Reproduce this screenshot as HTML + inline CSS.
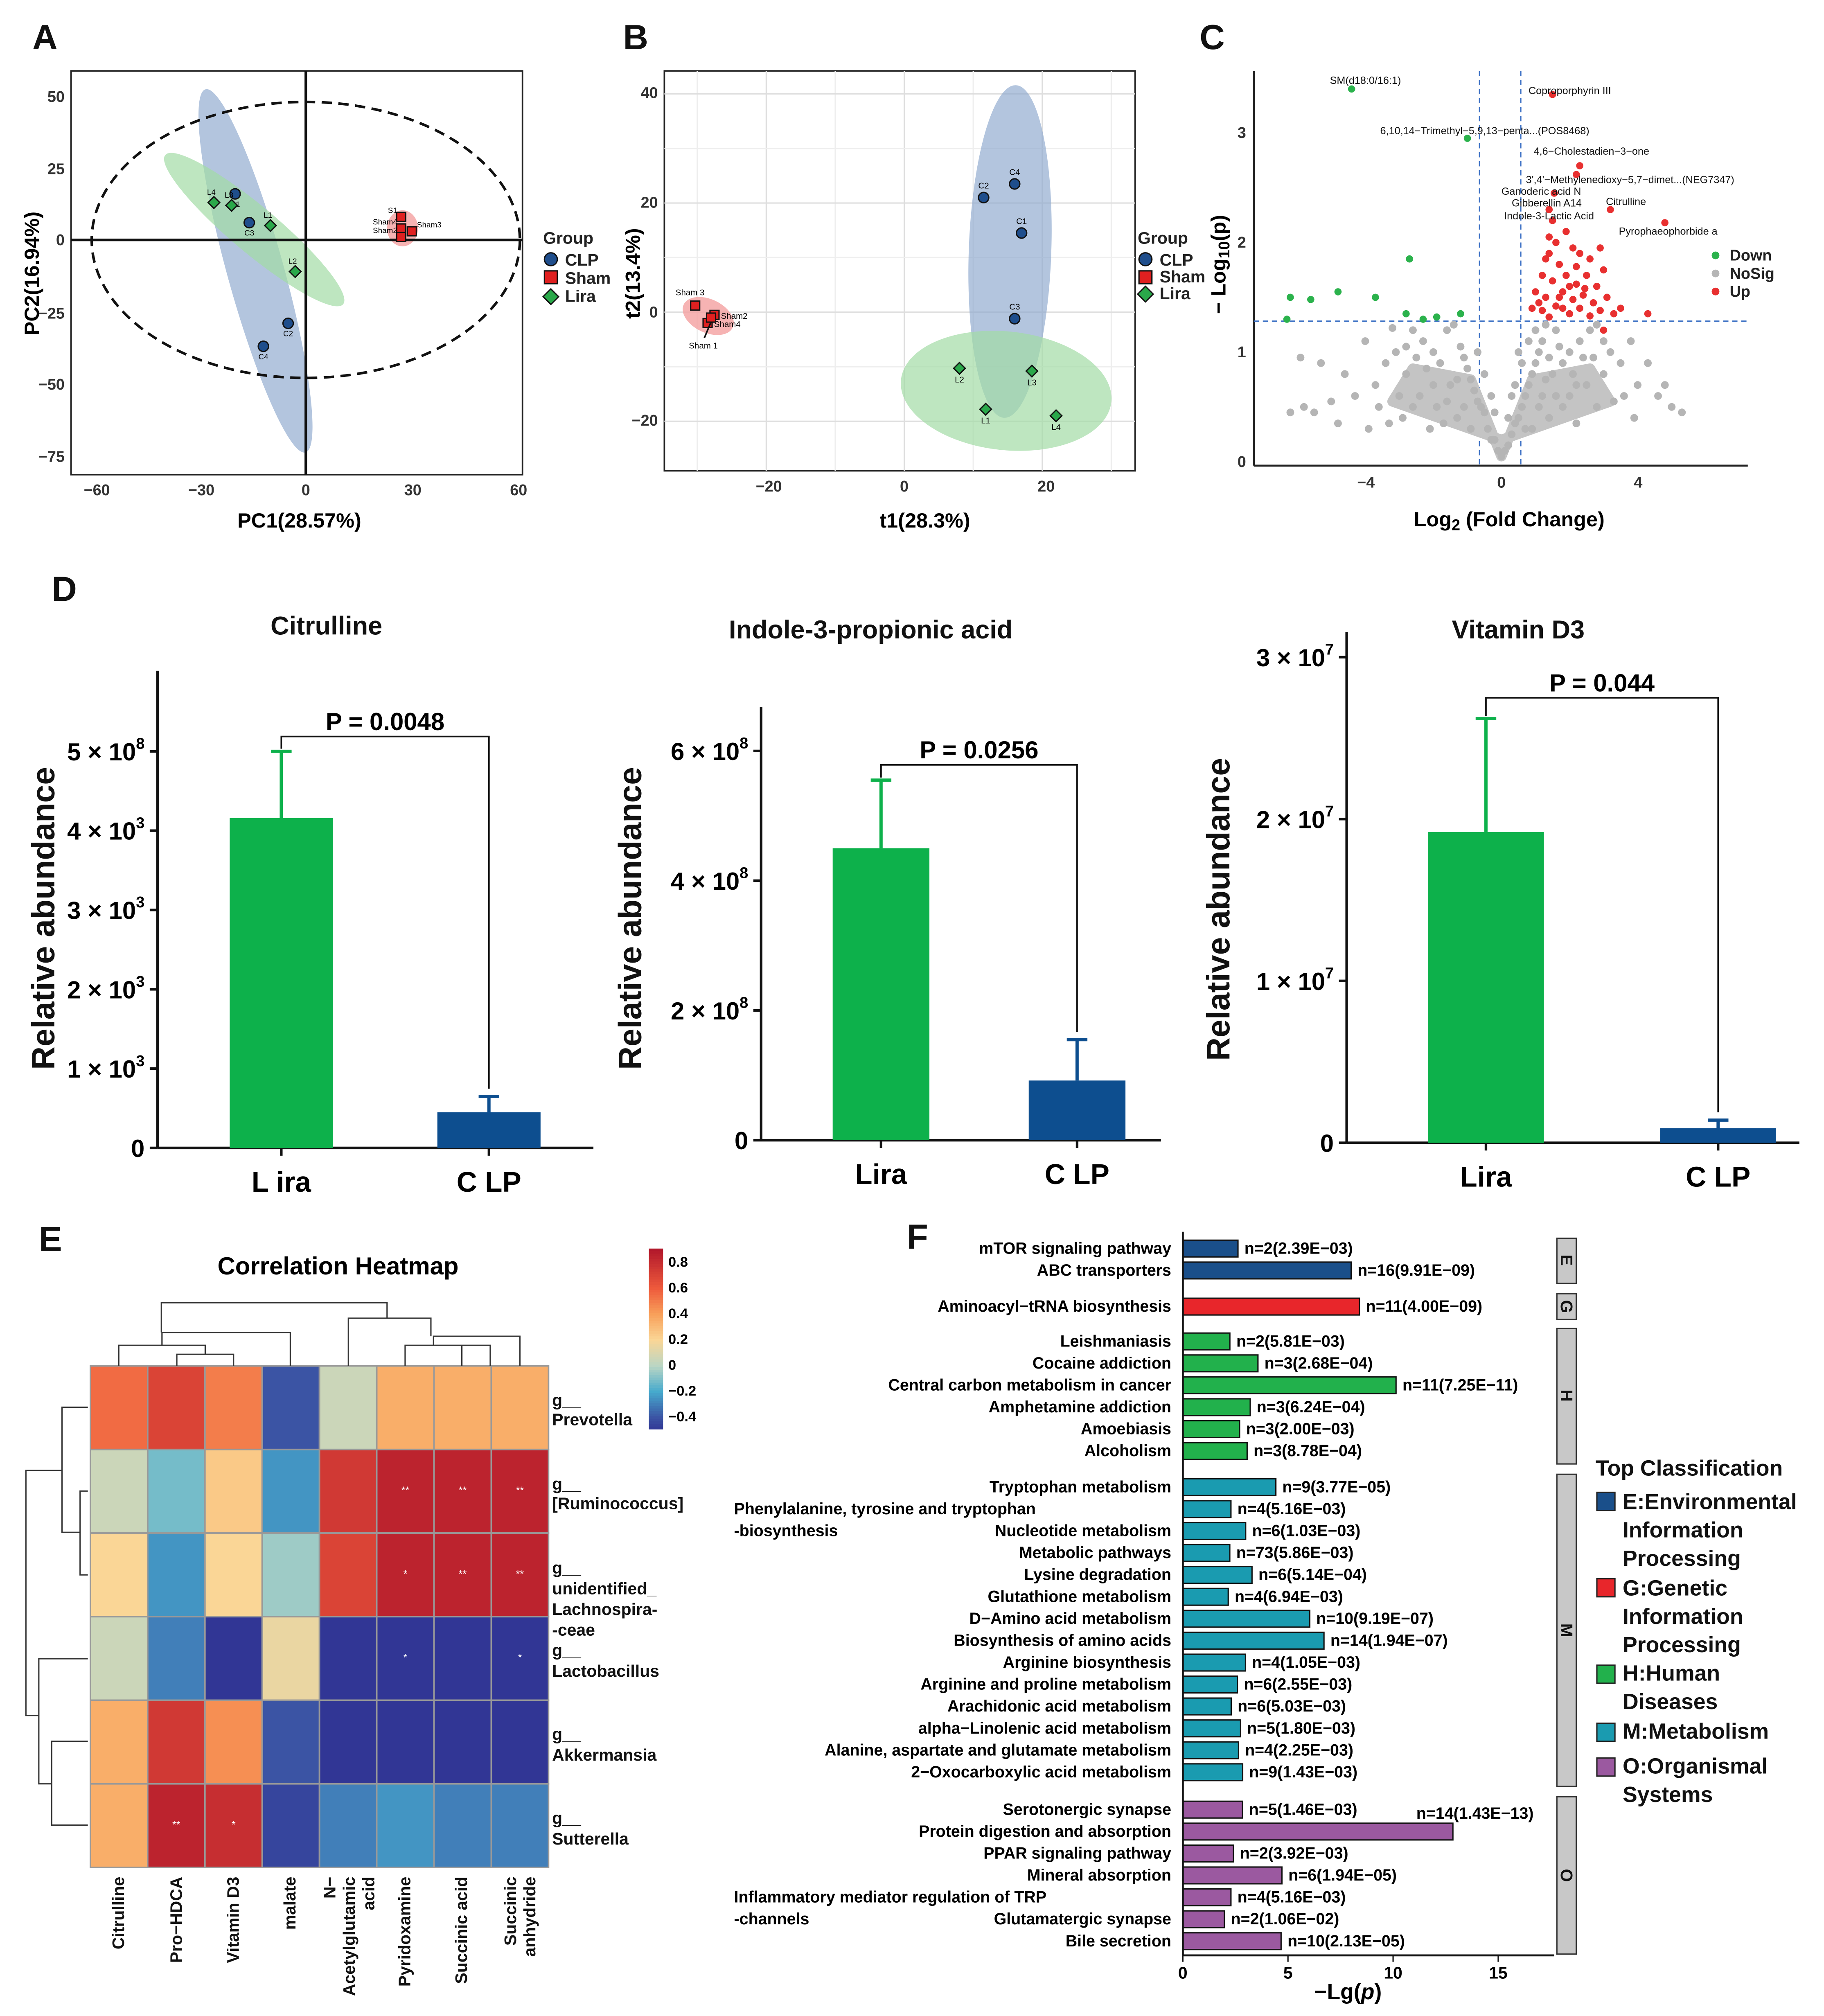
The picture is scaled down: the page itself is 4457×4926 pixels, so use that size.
<!DOCTYPE html>
<html><head><meta charset="utf-8"><style>
html,body{margin:0;padding:0;background:#fff;}
svg{display:block;font-family:"Liberation Sans",Arial,sans-serif;}
.b{font-weight:bold}
</style></head><body>
<svg id="fig" xmlns="http://www.w3.org/2000/svg" width="4457" height="4926" viewBox="0 0 1414 1563">
<rect x="0" y="0" width="1414" height="1563" fill="#fff"/>
<g class="b" font-size="27" fill="#111">
<text x="25" y="38">A</text>
<text x="483" y="38">B</text>
<text x="930" y="38">C</text>
<text x="40" y="466">D</text>
<text x="30" y="970">E</text>
<text x="703" y="968">F</text>
</g>

<g>
<rect x="55" y="55" width="350" height="313" fill="none" stroke="#222" stroke-width="1.2"/>
<g class="b" font-size="12" fill="#333" text-anchor="middle">
<text x="75" y="384">−60</text><text x="156" y="384">−30</text><text x="237" y="384">0</text><text x="320" y="384">30</text><text x="402" y="384">60</text>
</g>
<g class="b" font-size="12" fill="#333" text-anchor="end">
<text x="50" y="79">50</text><text x="50" y="135">25</text><text x="50" y="190">0</text><text x="50" y="247">−25</text><text x="50" y="302">−50</text><text x="50" y="358">−75</text>
</g>
<text class="b" x="232" y="409" font-size="16" text-anchor="middle">PC1(28.57%)</text>
<text class="b" x="30" y="212" font-size="16" text-anchor="middle" transform="rotate(-90 30 212)">PC2(16.94%)</text>
</g>
<g id="gA"></g>
<g class="b" font-size="13" fill="#222">
<text x="421" y="189">Group</text>
<circle cx="427" cy="201" r="5" fill="#1f4e8c" stroke="#111"/><text x="438" y="206">CLP</text>
<rect x="422" y="210" width="10" height="10" fill="#e02020" stroke="#111"/><text x="438" y="220">Sham</text>
<path d="M427 224 l6 6 -6 6 -6 -6z" fill="#2aa84a" stroke="#111"/><text x="438" y="234">Lira</text>
</g>

<g>
<rect x="515" y="55" width="365" height="310" fill="#fff" stroke="#222" stroke-width="1.2"/>
<g id="gBgrid"></g>
<g class="b" font-size="12" fill="#333" text-anchor="middle">
<text x="596" y="381">−20</text><text x="701" y="381">0</text><text x="811" y="381">20</text>
</g>
<g class="b" font-size="12" fill="#333" text-anchor="end">
<text x="510" y="76">40</text><text x="510" y="161">20</text><text x="510" y="246">0</text><text x="510" y="330">−20</text>
</g>
<text class="b" x="717" y="409" font-size="16" text-anchor="middle">t1(28.3%)</text>
<text class="b" x="496" y="212" font-size="16" text-anchor="middle" transform="rotate(-90 496 212)">t2(13.4%)</text>
</g>
<g id="gB"></g>
<g class="b" font-size="13" fill="#222">
<text x="882" y="189">Group</text>
<circle cx="888" cy="201" r="5" fill="#1f4e8c" stroke="#111"/><text x="899" y="206">CLP</text>
<rect x="883" y="210" width="10" height="10" fill="#e02020" stroke="#111"/><text x="899" y="219">Sham</text>
<path d="M888 222 l6 6 -6 6 -6 -6z" fill="#2aa84a" stroke="#111"/><text x="899" y="232">Lira</text>
</g>

<g>
<line x1="972" y1="55" x2="972" y2="361" stroke="#222" stroke-width="1.5"/>
<line x1="972" y1="361" x2="1355" y2="361" stroke="#222" stroke-width="1.5"/>
<g class="b" font-size="12" fill="#333" text-anchor="middle">
<text x="1059" y="378">−4</text><text x="1164" y="378">0</text><text x="1270" y="378">4</text>
</g>
<g class="b" font-size="12" fill="#333" text-anchor="end">
<text x="966" y="362">0</text><text x="966" y="277">1</text><text x="966" y="192">2</text><text x="966" y="107">3</text>
</g>
<text class="b" x="1170" y="408" font-size="16" text-anchor="middle">Log<tspan font-size="12" dy="3">2</tspan><tspan dy="-3"> (Fold Change)</tspan></text>
<text class="b" x="950" y="205" font-size="16" text-anchor="middle" transform="rotate(-90 950 205)">− Log<tspan font-size="12" dy="3">10</tspan><tspan dy="-3">(p)</tspan></text>
<line x1="1147" y1="55" x2="1147" y2="361" stroke="#3a6fc4" stroke-dasharray="4 3"/>
<line x1="1179" y1="55" x2="1179" y2="361" stroke="#3a6fc4" stroke-dasharray="4 3"/>
<line x1="972" y1="249" x2="1355" y2="249" stroke="#3a6fc4" stroke-dasharray="4 3"/>
</g>
<g id="gC"></g>
<g font-size="8" fill="#111">
<text x="1031" y="65">SM(d18:0/16:1)</text>
<text x="1185" y="73">Coproporphyrin III</text>
<text x="1070" y="104">6,10,14−Trimethyl−5,9,13−penta...(POS8468)</text>
<text x="1189" y="120">4,6−Cholestadien−3−one</text>
<text x="1183" y="142">3',4'−Methylenedioxy−5,7−dimet...(NEG7347)</text>
<text x="1164" y="151">Ganoderic acid N</text>
<text x="1172" y="160">Gibberellin A14</text>
<text x="1245" y="159">Citrulline</text>
<text x="1166" y="170">Indole-3-Lactic Acid</text>
<text x="1255" y="182">Pyrophaeophorbide a</text>
</g>
<g class="b" font-size="12" fill="#222">
<circle cx="1330" cy="198" r="3" fill="#2bb24c"/><text x="1341" y="202">Down</text>
<circle cx="1330" cy="212" r="3" fill="#b5b5b5"/><text x="1341" y="216">NoSig</text>
<circle cx="1330" cy="226" r="3" fill="#e83030"/><text x="1341" y="230">Up</text>
</g>

<g class="b" font-size="20" fill="#111" text-anchor="middle">
<text x="253" y="492">Citrulline</text>
<text x="675" y="495">Indole-3-propionic acid</text>
<text x="1177" y="495">Vitamin D3</text>
</g>
<g class="b" font-size="25" fill="#111" text-anchor="middle">
<text x="42" y="712" transform="rotate(-90 42 712)">Relative abundance</text>
<text x="497" y="712" transform="rotate(-90 497 712)">Relative abundance</text>
<text x="953" y="705" transform="rotate(-90 953 705)">Relative abundance</text>
</g>
<g id="gD"></g>

<text class="b" x="262" y="988" font-size="19" text-anchor="middle">Correlation Heatmap</text>
<g id="gE"></g>
<g fill="none" stroke="#333" stroke-width="1">
<path d="M92 1059V1043H159V1050"/><path d="M137 1059V1050H181V1059"/>
<path d="M225 1059V1033H125.5V1043"/><path d="M125 1033V1010H300V1022"/>
<path d="M270 1059V1022H334V1036"/><path d="M314 1059V1043H380V1059"/><path d="M358 1059V1043"/><path d="M336 1043V1036H403V1059"/>
</g>
<g fill="none" stroke="#333" stroke-width="1">
<path d="M68 1156H62V1221H68"/><path d="M62 1188H48V1091H68"/><path d="M48 1140H20V1330H30"/>
<path d="M68 1350H40V1415H68"/><path d="M40 1383H30V1286H68"/>
</g>
<g class="b" font-size="13" fill="#111">
<text x="428" y="1090">g__</text><text x="428" y="1105">Prevotella</text>
<text x="428" y="1155">g__</text><text x="428" y="1170">[Ruminococcus]</text>
<text x="428" y="1220">g__</text><text x="428" y="1236">unidentified_</text><text x="428" y="1252">Lachnospira-</text><text x="428" y="1268">-ceae</text>
<text x="428" y="1284">g__</text><text x="428" y="1300">Lactobacillus</text>
<text x="428" y="1349">g__</text><text x="428" y="1365">Akkermansia</text>
<text x="428" y="1414">g__</text><text x="428" y="1430">Sutterella</text>
</g>
<g class="b" font-size="13" fill="#111" text-anchor="end">
<text transform="translate(96 1455) rotate(-90)">Citrulline</text>
<text transform="translate(141 1455) rotate(-90)">Pro−HDCA</text>
<text transform="translate(185 1455) rotate(-90)">Vitamin D3</text>
<text transform="translate(229 1455) rotate(-90)">malate</text>
<text transform="translate(260 1455) rotate(-90)">N−</text>
<text transform="translate(275 1455) rotate(-90)">Acetylglutamic</text>
<text transform="translate(290 1455) rotate(-90)">acid</text>
<text transform="translate(318 1455) rotate(-90)">Pyridoxamine</text>
<text transform="translate(362 1455) rotate(-90)">Succinic acid</text>
<text transform="translate(400 1455) rotate(-90)">Succinic</text>
<text transform="translate(415 1455) rotate(-90)">anhydride</text>
</g>
<g id="gEleg"></g>

<g id="gF"></g>
<g class="b" font-size="13" fill="#111">
<rect x="1207" y="960" width="15" height="35" fill="#c8c8c8" stroke="#333"/>
<rect x="1207" y="1003" width="15" height="20" fill="#c8c8c8" stroke="#333"/>
<rect x="1207" y="1030" width="15" height="105" fill="#c8c8c8" stroke="#333"/>
<rect x="1207" y="1143" width="15" height="242" fill="#c8c8c8" stroke="#333"/>
<rect x="1207" y="1393" width="15" height="122" fill="#c8c8c8" stroke="#333"/>
<text transform="translate(1210 977) rotate(90)" text-anchor="middle">E</text>
<text transform="translate(1210 1013) rotate(90)" text-anchor="middle">G</text>
<text transform="translate(1210 1082) rotate(90)" text-anchor="middle">H</text>
<text transform="translate(1210 1264) rotate(90)" text-anchor="middle">M</text>
<text transform="translate(1210 1454) rotate(90)" text-anchor="middle">O</text>
</g>
<g class="b" font-size="17" fill="#111">
<text x="1237" y="1144">Top Classification</text>
<rect x="1238" y="1157" width="14" height="14" fill="#1a4f8a" stroke="#222"/>
<text x="1258" y="1170">E:Environmental</text><text x="1258" y="1192">Information</text><text x="1258" y="1214">Processing</text>
<rect x="1238" y="1224" width="14" height="14" fill="#e8262b" stroke="#222"/>
<text x="1258" y="1237">G:Genetic</text><text x="1258" y="1259">Information</text><text x="1258" y="1281">Processing</text>
<rect x="1238" y="1291" width="14" height="14" fill="#22b14c" stroke="#222"/>
<text x="1258" y="1303">H:Human</text><text x="1258" y="1325">Diseases</text>
<rect x="1238" y="1336" width="14" height="14" fill="#1a9bb0" stroke="#222"/>
<text x="1258" y="1348">M:Metabolism</text>
<rect x="1238" y="1363" width="14" height="14" fill="#9b59a0" stroke="#222"/>
<text x="1258" y="1375">O:Organismal</text><text x="1258" y="1397">Systems</text>
</g>
</svg>
<script>
const NS="http://www.w3.org/2000/svg";
const pcaClpNames=["C1","C3","C2","C4"];
const pcaClpX=[-20,-16,-5,-12];
const pcaClpY=[16,6,-29,-37];
const pcaLiraNames=["L4","L3","L1","L2"];
const pcaLiraX=[-26,-21,-10,-3];
const pcaLiraY=[13,12,5,-11];
const pcaShamNames=["S1","Sham3","Sham4","Sham2"];
const pcaShamX=[27,30,27,27];
const pcaShamY=[8,3,4,1];

const plsClpNames=["C4","C2","C1","C3"];
const plsClpX=[16,11.5,17,16];
const plsClpY=[23.5,21,14.5,-1.2];
const plsLiraNames=["L2","L3","L1","L4"];
const plsLiraX=[8,18.5,11.8,22];
const plsLiraY=[-10.3,-10.8,-17.8,-19];
const plsShamNames=["Sham 3","Sham2","Sham4","Sham 1"];
const plsShamX=[-30.3,-27.5,-28.5,-28];
const plsShamY=[1.2,-0.5,-2,-1];

const volcNoSig=[[0,0.05],[0.1,0.1],[-0.1,0.1],[0.2,0.15],[-0.2,0.2],[0.3,0.25],[-0.3,0.2],[0.4,0.35],[-0.4,0.3],[0.5,0.4],[-0.5,0.45],[0.6,0.5],[-0.6,0.5],[0.7,0.6],[-0.7,0.55],[0.8,0.7],[-0.8,0.65],[0.9,0.8],[-0.9,0.75],[1.0,0.9],[-1.0,0.85],[1.1,1.0],[-1.1,0.95],[1.2,1.1],[-1.2,1.05],[0.6,0.9],[0.8,1.1],[1.0,1.2],[-0.7,1.0],[-0.5,0.8],[0.4,0.7],[0.7,0.3],[1.2,0.6],[1.5,0.8],[1.8,0.9],[2.0,1.0],[2.3,1.1],[2.6,1.2],[1.6,1.2],[2.0,0.6],[2.5,0.7],[3.0,0.8],[3.2,1.0],[3.5,0.9],[3.8,1.1],[4.0,0.7],[4.3,0.9],[4.6,0.6],[5.0,0.5],[5.3,0.45],[1.4,0.4],[1.8,0.5],[2.2,0.35],[2.8,0.5],[3.3,0.55],[1.3,1.25],[2.8,1.25],[-1.5,0.7],[-1.8,0.9],[-2.0,1.0],[-2.3,1.1],[-2.6,1.2],[-1.6,1.2],[-1.9,0.5],[-2.4,0.6],[-2.8,0.8],[-3.1,1.0],[-3.4,0.9],[-3.7,0.7],[-4.0,1.1],[-4.3,0.6],[-4.6,0.8],[-5.0,0.55],[-5.5,0.45],[-6.2,0.45],[-5.8,0.5],[-5.9,0.95],[-1.3,0.4],[-2.1,0.3],[-2.9,0.4],[-3.3,0.35],[-1.4,1.25],[-3.2,1.22],[0.3,0.6],[-0.3,0.6],[0.9,0.3],[-0.9,0.3],[1.7,1.05],[2.1,0.8],[-2.2,0.85],[-1.7,0.35],[3.9,0.4],[4.8,0.7],[-4.8,0.35],[-3.9,0.3],[-5.3,0.9],[0.5,1.0],[1.4,0.95],[2.4,0.95],[-1.3,0.75],[-2.5,0.95],[3.6,0.6],[-3.6,0.5],[0.2,0.4],[-0.2,0.45],[1.1,0.5],[-1.1,0.5],[1.3,0.75],[1.6,0.6],[2.2,0.7],[2.7,0.95],[-1.6,0.55],[-2.0,0.7],[-2.6,0.5],[-3.0,0.6],[3.0,1.1],[-2.8,1.05]];
const volcUp=[[1.5,3.35],[2.3,2.7],[2.2,2.62],[1.55,2.45],[1.4,2.3],[3.2,2.3],[1.5,2.2],[4.8,2.18],[1.4,2.05],[1.6,2.0],[1.9,2.1],[2.1,1.95],[1.3,1.85],[1.7,1.8],[2.3,1.9],[2.6,1.85],[2.9,1.95],[1.2,1.7],[1.5,1.65],[1.9,1.7],[2.2,1.62],[2.5,1.7],[2.8,1.6],[3.0,1.75],[1.0,1.55],[1.3,1.5],[1.8,1.55],[2.1,1.48],[2.4,1.52],[2.7,1.45],[3.1,1.5],[0.9,1.4],[1.2,1.38],[1.6,1.42],[2.0,1.35],[2.3,1.4],[2.6,1.33],[2.9,1.38],[3.3,1.35],[1.4,1.32],[1.1,1.45],[2.0,1.6],[1.7,1.5],[3.0,1.2],[4.3,1.35],[3.5,1.4],[2.2,1.78],[1.4,1.9],[2.45,1.58],[1.8,1.4]];
const volcDown=[[-4.4,3.4],[-1.0,2.95],[-6.2,1.5],[-5.6,1.48],[-4.8,1.55],[-3.7,1.5],[-2.7,1.85],[-2.8,1.35],[-2.3,1.3],[-1.9,1.32],[-1.2,1.35],[-6.3,1.3]];

const barGroups=["Lira","CLP"];
const citMean=[4.16,0.45];
const citErr=[5.0,0.65];
const citTicks=[0,1,2,3,4,5];
const citTickExp=["","3","3","3","3","8"];
const indMean=[4.5,0.92];
const indErr=[5.55,1.55];
const indTicks=[0,2,4,6];
const vitMean=[1.92,0.09];
const vitErr=[2.62,0.14];
const vitTicks=[0,1,2,3];
const pLabels=["P = 0.0048","P = 0.0256","P = 0.044"];

const hmCols=["Citrulline","Pro-HDCA","Vitamin D3","malate","N-Acetylglutamic acid","Pyridoxamine","Succinic acid","Succinic anhydride"];
const hmRows=["Prevotella","Ruminococcus","Lachnospiraceae","Lactobacillus","Akkermansia","Sutterella"];
const hmVals=[
[0.55,0.7,0.5,-0.4,0.05,0.35,0.35,0.35],
[0.05,-0.12,0.25,-0.25,0.75,0.85,0.85,0.85],
[0.2,-0.25,0.2,-0.05,0.7,0.85,0.85,0.85],
[0.05,-0.3,-0.5,0.15,-0.5,-0.5,-0.5,-0.5],
[0.35,0.75,0.45,-0.4,-0.5,-0.5,-0.5,-0.5],
[0.35,0.85,0.8,-0.45,-0.3,-0.25,-0.3,-0.3]];
const hmStars=[
["","","","","","","",""],
["","","","","","**","**","**"],
["","","","","","*","**","**"],
["","","","","","*","","*"],
["","","","","","","",""],
["","**","*","","","","",""]];
const hmLegendTicks=[0.8,0.6,0.4,0.2,0,-0.2,-0.4];

const keggNames=["mTOR signaling pathway","ABC transporters","Aminoacyl−tRNA biosynthesis","Leishmaniasis","Cocaine addiction","Central carbon metabolism in cancer","Amphetamine addiction","Amoebiasis","Alcoholism","Tryptophan metabolism","Phenylalanine, tyrosine and tryptophan|-biosynthesis","Nucleotide metabolism","Metabolic pathways","Lysine degradation","Glutathione metabolism","D−Amino acid metabolism","Biosynthesis of amino acids","Arginine biosynthesis","Arginine and proline metabolism","Arachidonic acid metabolism","alpha−Linolenic acid metabolism","Alanine, aspartate and glutamate metabolism","2−Oxocarboxylic acid metabolism","Serotonergic synapse","Protein digestion and absorption","PPAR signaling pathway","Mineral absorption","Inflammatory mediator regulation of TRP|-channels","Glutamatergic synapse","Bile secretion"];
const keggN=[2,16,11,2,3,11,3,3,3,9,4,6,73,6,4,10,14,4,6,6,5,4,9,5,14,2,6,4,2,10];
const keggP=["2.39E-03","9.91E-09","4.00E-09","5.81E-03","2.68E-04","7.25E-11","6.24E-04","2.00E-03","8.78E-04","3.77E-05","5.16E-03","1.03E-03","5.86E-03","5.14E-04","6.94E-03","9.19E-07","1.94E-07","1.05E-03","2.55E-03","5.03E-03","1.80E-03","2.25E-03","1.43E-03","1.46E-03","1.43E-13","3.92E-03","1.94E-05","5.16E-03","1.06E-02","2.13E-05"];
const keggClass=["E","E","G","H","H","H","H","H","H","M","M","M","M","M","M","M","M","M","M","M","M","M","M","O","O","O","O","O","O","O"];
const keggTicks=[0,5,10,15];

function mk(tag,attrs,parent){const e=document.createElementNS(NS,tag);for(const k in attrs)e.setAttribute(k,attrs[k]);parent.appendChild(e);return e;}
function G(id){return document.getElementById(id);}
function diamond(cx,cy,r){return `M${cx} ${cy-r}L${cx+r} ${cy}L${cx} ${cy+r}L${cx-r} ${cy}Z`;}

(function(){
const g=G("gA");
const xs=v=>237+2.74*v, ys=v=>186-2.23*v;
let e;
e=mk("ellipse",{cx:198,cy:210,rx:22,ry:146,fill:"#8aa6cc","fill-opacity":0.65,transform:"rotate(-15.4 198 210)"},g);


e=mk("ellipse",{cx:197,cy:178,rx:90,ry:18,fill:"#a3dca5","fill-opacity":0.7,transform:"rotate(40 197 178)"},g);


e=mk("ellipse",{cx:312,cy:177,rx:12,ry:14,fill:"#f4a0a0","fill-opacity":0.8},g);


e=mk("ellipse",{cx:237,cy:186,rx:166,ry:107,fill:"none",stroke:"#111","stroke-width":2,"stroke-dasharray":"8 5"},g);


mk("line",{x1:237,y1:55,x2:237,y2:368,stroke:"#111","stroke-width":2},g);
mk("line",{x1:55,y1:186,x2:405,y2:186,stroke:"#111","stroke-width":2},g);
pcaClpX.forEach((v,i)=>{const c=mk("circle",{cx:xs(v),cy:ys(pcaClpY[i]),r:4,fill:"#1f4e8c",stroke:"#111"},g);


mk("text",{x:xs(v),y:ys(pcaClpY[i])+10,"font-size":6,"text-anchor":"middle"},g).textContent=pcaClpNames[i];});
pcaLiraX.forEach((v,i)=>{const c=mk("path",{d:diamond(xs(v),ys(pcaLiraY[i]),4.5),fill:"#2aa84a",stroke:"#111"},g);


mk("text",{x:xs(v)-2,y:ys(pcaLiraY[i])-6,"font-size":6,"text-anchor":"middle"},g).textContent=pcaLiraNames[i];});
pcaShamX.forEach((v,i)=>{const x=xs(v),y=ys(pcaShamY[i]);const c=mk("rect",{x:x-3.5,y:y-3.5,width:7,height:7,fill:"#e02020",stroke:"#111"},g);


mk("text",{x:i==1?x+4:x-3,y:y-3,"font-size":6,"text-anchor":i==1?"start":"end"},g).textContent=pcaShamNames[i];});
})();

(function(){
const gg=G("gBgrid");
const xs=v=>701+5.35*v, ys=v=>242-4.23*v;
for(let v=-30;v<=30;v+=10){const x=xs(v);if(x>515&&x<880)mk("line",{x1:x,y1:55,x2:x,y2:365,stroke:v%20==0?"#dedede":"#eeeeee"},gg);}
for(let v=-30;v<=50;v+=10){const y=ys(v);if(y>55&&y<365)mk("line",{x1:515,y1:y,x2:880,y2:y,stroke:v%20==0?"#dedede":"#eeeeee"},gg);}
const g=G("gB");let e;
e=mk("ellipse",{cx:783,cy:195,rx:32,ry:129,fill:"#8aa6cc","fill-opacity":0.65,transform:"rotate(2 783 195)"},g);


e=mk("ellipse",{cx:780,cy:303,rx:82,ry:46,fill:"#a3dca5","fill-opacity":0.7,transform:"rotate(6 780 303)"},g);


e=mk("ellipse",{cx:549,cy:245,rx:21,ry:13,fill:"#f4a0a0","fill-opacity":0.8,transform:"rotate(25 549 245)"},g);


plsClpX.forEach((v,i)=>{const c=mk("circle",{cx:xs(v),cy:ys(plsClpY[i]),r:4,fill:"#1f4e8c",stroke:"#111"},g);


mk("text",{x:xs(v),y:ys(plsClpY[i])-7,"font-size":6.5,"text-anchor":"middle"},g).textContent=plsClpNames[i];});
plsLiraX.forEach((v,i)=>{const c=mk("path",{d:diamond(xs(v),ys(plsLiraY[i]),4.5),fill:"#2aa84a",stroke:"#111"},g);


mk("text",{x:xs(v),y:ys(plsLiraY[i])+11,"font-size":6.5,"text-anchor":"middle"},g).textContent=plsLiraNames[i];});
plsShamX.forEach((v,i)=>{const x=xs(v),y=ys(plsShamY[i]);const c=mk("rect",{x:x-3.5,y:y-3.5,width:7,height:7,fill:"#e02020",stroke:"#111"},g);


const lx=i==0?x-4:(i==3?x-6:x+5), ly=i==0?y-8:(i==3?y+24:y+3);
mk("text",{x:lx,y:ly,"font-size":6.5,"text-anchor":i==0||i==3?"middle":"start"},g).textContent=plsShamNames[i];});
mk("line",{x1:546,y1:262,x2:551,y2:250,stroke:"#111","stroke-width":1.2},g);
})();

(function(){
const g=G("gC");
const xs=v=>1164+26.4*v, ys=v=>358-85*v;
mk("path",{d:`M${xs(-0.9)} ${ys(0.75)} L${xs(0)} ${ys(0.05)} L${xs(0.9)} ${ys(0.75)} L${xs(2.6)} ${ys(0.85)} L${xs(3.2)} ${ys(0.55)} L${xs(0)} ${ys(0.2)} L${xs(-3.2)} ${ys(0.55)} L${xs(-2.6)} ${ys(0.85)}Z`,fill:"#c4c4c4",stroke:"#c4c4c4","stroke-width":8,"stroke-linejoin":"round"},g);
volcNoSig.forEach(p=>{const c=mk("circle",{cx:xs(p[0]),cy:ys(p[1]),r:3,fill:"#b5b5b5"},g);

});
volcUp.forEach(p=>{const c=mk("circle",{cx:xs(p[0]),cy:ys(p[1]),r:2.8,fill:"#e83030"},g);

});
volcDown.forEach(p=>{const c=mk("circle",{cx:xs(p[0]),cy:ys(p[1]),r:2.8,fill:"#2bb24c"},g);

});
})();

function barChart(cfg){
const g=G("gD");
const ys=v=>cfg.y0-cfg.k*v;
mk("line",{x1:cfg.ax,y1:cfg.top,x2:cfg.ax,y2:cfg.y0,stroke:"#111","stroke-width":2},g);
mk("line",{x1:cfg.ax,y1:cfg.y0,x2:cfg.right,y2:cfg.y0,stroke:"#111","stroke-width":2},g);
cfg.ticks.forEach((t,ti)=>{const y=ys(t);mk("line",{x1:cfg.ax-6,y1:y,x2:cfg.ax,y2:y,stroke:"#111","stroke-width":2},g);
const tx=mk("text",{x:cfg.ax-10,y:y+7,"font-size":19,"font-weight":"bold","text-anchor":"end"},g);
if(t===0){tx.textContent="0";}else{tx.textContent=t+" × 10";const s=mk("tspan",{"font-size":12,dy:-9},tx);s.textContent=cfg.exps?cfg.exps[ti]:cfg.exp;}
});
const cols=["#0db14b","#0d4e8f"];
cfg.mean.forEach((m,i)=>{const cx=cfg.cx[i];
const r=mk("rect",{x:cx-cfg.w/2,y:ys(m),width:cfg.w,height:cfg.y0-ys(m),fill:cols[i]},g);


const ey=ys(cfg.err[i]);
mk("line",{x1:cx,y1:ys(m),x2:cx,y2:ey,stroke:cols[i],"stroke-width":2.5},g);
mk("line",{x1:cx-8,y1:ey,x2:cx+8,y2:ey,stroke:cols[i],"stroke-width":2.5},g);
mk("line",{x1:cx,y1:cfg.y0,x2:cx,y2:cfg.y0+6,stroke:"#111","stroke-width":2},g);
const lb=mk("text",{x:cx,y:cfg.y0+34,"font-size":22,"font-weight":"bold","text-anchor":"middle"},g);lb.textContent=cfg.lbl[i];
});
const by=cfg.by;
mk("path",{d:`M${cfg.cx[0]} ${ys(cfg.err[0])-2}V${by}H${cfg.cx[1]}V${ys(cfg.err[1])-6}`,fill:"none",stroke:"#111","stroke-width":1.2},g);
const pt=mk("text",{x:(cfg.cx[0]+cfg.cx[1])/2,y:by-5,"font-size":19,"font-weight":"bold","text-anchor":"middle"},g);pt.textContent=cfg.p;
}
barChart({ax:122,right:460,top:520,y0:890,k:61.5,ticks:citTicks,exps:citTickExp,exp:"3",mean:citMean,err:citErr,cx:[218,379],w:80,by:571,p:pLabels[0],lbl:["L ira","C LP"]});
barChart({ax:590,right:900,top:548,y0:884,k:50.3,ticks:indTicks,exp:"8",mean:indMean,err:indErr,cx:[683,835],w:75,by:593,p:pLabels[1],lbl:["Lira","C LP"]});
barChart({ax:1044,right:1395,top:490,y0:886,k:125.5,ticks:vitTicks,exp:"7",mean:vitMean,err:vitErr,cx:[1152,1332],w:90,by:541,p:pLabels[2],lbl:["Lira","C LP"]});

const stops=[[-0.5,[49,54,149]],[-0.4,[59,84,164]],[-0.2,[70,170,205]],[0,[187,214,196]],[0.2,[250,214,150]],[0.4,[248,160,90]],[0.6,[238,90,60]],[0.9,[178,24,43]]];
function colr(v){for(let i=0;i<stops.length-1;i++){const a=stops[i],b=stops[i+1];if(v<=b[0]){const t=Math.max(0,(v-a[0])/(b[0]-a[0]));return "rgb("+a[1].map((c,j)=>Math.round(c+(b[1][j]-c)*t)).join(",")+")";}}return "rgb(178,24,43)";}
(function(){
const g=G("gE");const x0=70,y0=1059,cw=44.4,ch=64.8;
hmVals.forEach((row,r)=>row.forEach((v,c)=>{
const e=mk("rect",{x:x0+c*cw,y:y0+r*ch,width:cw,height:ch,fill:colr(v),stroke:"#999","stroke-width":1.2},g);


if(hmStars[r][c]){mk("text",{x:x0+c*cw+cw/2,y:y0+r*ch+ch/2+2,"font-size":8,fill:"#fff","text-anchor":"middle"},g).textContent=hmStars[r][c];}
}));
const gl=G("gEleg");
for(let i=0;i<70;i++){const v=0.9-i*0.02;mk("rect",{x:503,y:968+i*2,width:11,height:2.2,fill:colr(v)},gl);}
hmLegendTicks.forEach(t=>{const y=968+(0.9-t)/0.02*2;
const tx=mk("text",{x:518,y:y+4,"font-size":11,"font-weight":"bold"},gl);tx.textContent=(t<0?"−"+(-t):String(t));});
})();

(function(){
const g=G("gF");
const xs=v=>917+16.3*v;
const rowY=[968,985,1013,1040,1057,1074,1091,1108,1125,1153,1170,1187,1204,1221,1238,1255,1272,1289,1306,1323,1340,1357,1374,1403,1420,1437,1454,1471,1488,1505];
const cc={E:"#1a4f8a",G:"#e8262b",H:"#22b14c",M:"#1a9bb0",O:"#9b59a0"};
keggP.forEach((p,i)=>{const v=-Math.log10(parseFloat(p));const y=rowY[i];
const r=mk("rect",{x:917,y:y-6.5,width:xs(v)-917,height:13,fill:cc[keggClass[i]],stroke:"#111","stroke-width":1},g);


const lb=mk("text",{x:xs(v)+5,y:y+4,"font-size":12.5,"font-weight":"bold"},g);
lb.textContent="n="+keggN[i]+"("+p.replace("E-","E−")+")";
if(i==24){lb.setAttribute("x",1098);lb.setAttribute("y",y-10);}
const parts=keggNames[i].split("|");
if(parts.length>1){
mk("text",{x:569,y:y+4,"font-size":12.5,"font-weight":"bold"},g).textContent=parts[0];
mk("text",{x:569,y:y+21,"font-size":12.5,"font-weight":"bold"},g).textContent=parts[1];
}else{
mk("text",{x:908,y:y+4,"font-size":12.5,"font-weight":"bold","text-anchor":"end"},g).textContent=parts[0];}
});
mk("line",{x1:917,y1:955,x2:917,y2:1516,stroke:"#111","stroke-width":1.5},g);
mk("line",{x1:917,y1:1516,x2:1205,y2:1516,stroke:"#111","stroke-width":1.5},g);
keggTicks.forEach(t=>{mk("line",{x1:xs(t),y1:1516,x2:xs(t),y2:1521,stroke:"#111"},g);
mk("text",{x:xs(t),y:1534,"font-size":13,"font-weight":"bold","text-anchor":"middle"},g).textContent=String(t);});
const ttl=mk("text",{x:1045,y:1550,"font-size":17,"font-weight":"bold","text-anchor":"middle"},g);
ttl.textContent="−Lg(";const it=mk("tspan",{"font-style":"italic"},ttl);it.textContent="p";const cl=mk("tspan",{},ttl);cl.textContent=")";


})();
</script>
</body></html>
